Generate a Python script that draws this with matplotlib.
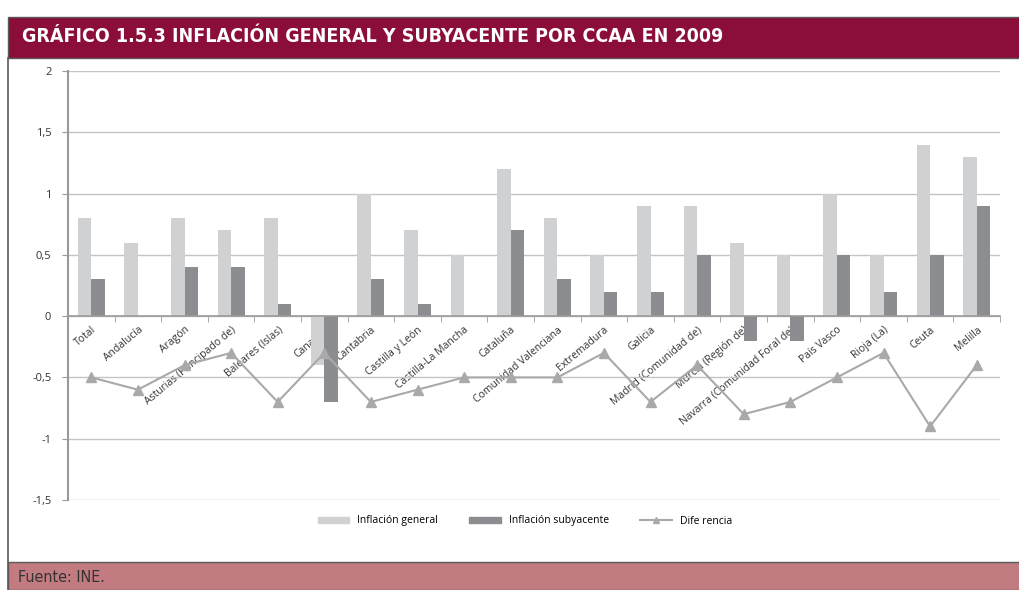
import numpy as np
import matplotlib
matplotlib.use("Agg")
import matplotlib.pyplot as plt
import matplotlib.patches as mpatches
from matplotlib.lines import Line2D

plt.rcParams['font.family'] = ['Open Sans', 'DejaVu Sans']

# Datos
regiones = ["Total", "Andalucía", "Aragón", "Asturias (Principado de)", "Baleares (Islas)",
            "Canarias", "Cantabria", "Castilla y León", "Castilla-La Mancha", "Cataluña",
            "Comunidad Valenciana", "Extremadura", "Galicia", "Madrid (Comunidad de)",
            "Murcia (Región de)", "Navarra (Comunidad Foral de)", "País Vasco", "Rioja (La)",
            "Ceuta", "Melilla"]
inflacion_general = [0.8, 0.6, 0.8, 0.7, 0.8, -0.4, 1.0, 0.7, 0.5, 1.2,
                     0.8, 0.5, 0.9, 0.9, 0.6, 0.5, 1.0, 0.5, 1.4, 1.3]
inflacion_subyacente = [0.3, 0.0, 0.4, 0.4, 0.1, -0.7, 0.3, 0.1, 0.0, 0.7,
                        0.3, 0.2, 0.2, 0.5, -0.2, -0.2, 0.5, 0.2, 0.5, 0.9]
diferencia = [-0.5, -0.6, -0.4, -0.3, -0.7, -0.3, -0.7, -0.6, -0.5, -0.5,
              -0.5, -0.3, -0.7, -0.4, -0.8, -0.7, -0.5, -0.3, -0.9, -0.4]
ytick_vals = [-1.5, -1, -0.5, 0, 0.5, 1, 1.5, 2]
ytick_labels = ["-1,5", "-1", "-0,5", "0", "0,5", "1", "1,5", "2"]

c_gen = '#D0D1D3'
c_sub = '#8C8D91'
c_dif = '#A9A9AB'

fig = plt.figure(figsize=(10.19, 5.90), dpi=100)

# Marco: cabecera, pie y borde
fig.patches.append(mpatches.Rectangle((8/1019, 1-58/590), 1, 41/590, transform=fig.transFigure,
                                      facecolor='#8B0E3A', edgecolor='#5a5a5a', lw=1, zorder=0))
fig.patches.append(mpatches.Rectangle((8/1019, 0), 1, 28/590, transform=fig.transFigure,
                                      facecolor='#C27B80', edgecolor='#5a5a5a', lw=1, zorder=0))
fig.lines.append(Line2D([8/1019, 8/1019], [0, 1-58/590], transform=fig.transFigure,
                        color='#5a5a5a', lw=1.2))
fig.text(22/1019, 1-37/590, "GRÁFICO 1.5.3 INFLACIÓN GENERAL Y SUBYACENTE POR CCAA EN 2009",
         color='white', fontsize=14, fontweight='bold', fontstretch='condensed',
         va='center', ha='left', family='DejaVu Sans')
fig.text(18/1019, 1-578/590, "Fuente: INE.", color='#333333', fontsize=11.5,
         fontstretch='condensed', va='center', ha='left', family='DejaVu Sans')

ax = fig.add_axes([68/1019, 1-500/590, 932/1019, 429/590])
x = np.arange(len(regiones))
w = 0.29
ax.bar(x - w/2, inflacion_general, w, color=c_gen, label='Inflación general', zorder=2)
ax.bar(x + w/2, inflacion_subyacente, w, color=c_sub, label='Inflación subyacente', zorder=2)
ax.plot(x, diferencia, color=c_dif, marker='^', markersize=7, lw=1.5, label='Diferencia', zorder=3)

ax.set_xlim(-0.5, len(regiones) - 0.5)
ax.set_ylim(-1.5, 2)
ax.set_yticks(ytick_vals)
ax.set_yticklabels(ytick_labels, fontsize=8, color='#333333')
ax.yaxis.grid(True, color='#C4C4C4', lw=1, zorder=0)
ax.set_axisbelow(True)

for s in ['top', 'right']:
    ax.spines[s].set_visible(False)
ax.spines['left'].set_color('#9A9A9A')
ax.spines['left'].set_linewidth(1.5)
ax.spines['bottom'].set_position(('data', 0))
ax.spines['bottom'].set_color('#9A9A9A')
ax.spines['bottom'].set_linewidth(1.2)
ax.tick_params(axis='y', length=4, color='#9A9A9A', pad=8)

ax.set_xticks(x)
ax.set_xticklabels(regiones, rotation=40, ha='right', va='top', rotation_mode='anchor',
                   fontsize=7.5, color='#333333')
ax.tick_params(axis='x', which='major', length=0, pad=6)
ax.set_xticks(np.arange(-0.5, len(regiones)), minor=True)
ax.tick_params(axis='x', which='minor', length=4, color='#9A9A9A', direction='out')

handles = [mpatches.Patch(color=c_gen, label='Inflación general'),
           mpatches.Patch(color=c_sub, label='Inflación subyacente'),
           Line2D([], [], color=c_dif, marker='^', markersize=5, lw=1.5, label='Dife rencia')]
fig.legend(handles=handles, loc='center', bbox_to_anchor=(525/1019, 1-521/590), ncol=3,
           frameon=False, fontsize=7.5, handlelength=3, handleheight=0.6, columnspacing=3)

fig.savefig("out.png", dpi=100)
